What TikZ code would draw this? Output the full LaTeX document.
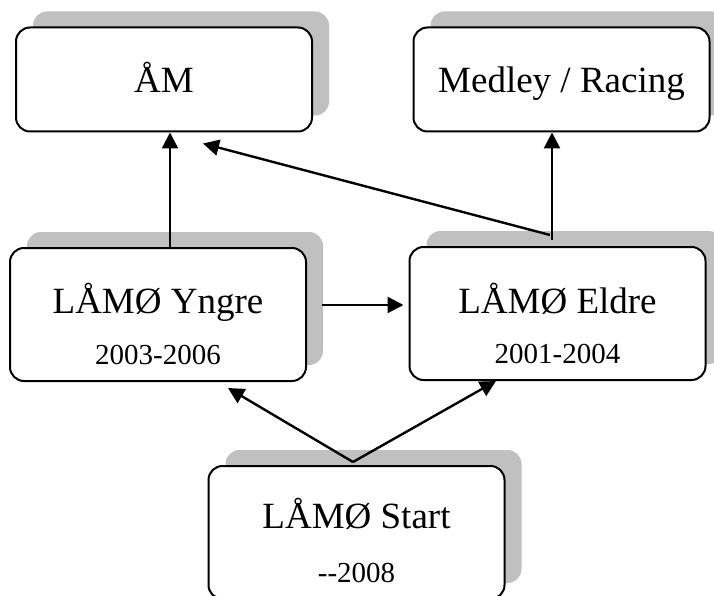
\documentclass[tikz,border=0pt]{standalone}
\usepackage{fontspec}
\setmainfont{Liberation Serif}
\usetikzlibrary{arrows.meta,shadows}
\definecolor{shadowgray}{HTML}{C0C0C0}
\begin{document}
\begin{tikzpicture}[x=1pt,y=-1pt,
  box/.style={draw=black, line width=2pt, fill=white, rounded corners=14pt,
    minimum width=296pt, inner sep=0pt,
    drop shadow={shadow xshift=17pt, shadow yshift=16pt, fill=shadowgray, opacity=1}},
  topbox/.style={box, minimum height=104pt},
  midbox/.style={box, minimum height=133pt},
  big/.style={font=\fontsize{37}{42}\selectfont, inner sep=0pt, anchor=base},
  yrs/.style={font=\fontsize{29}{33}\selectfont, inner sep=0pt, anchor=base},
  arr/.style={line width=2.4pt, -{Triangle[length=16pt,width=16pt]}}]
\useasboundingbox (0,0) rectangle (714,596);

% boxes
\node[topbox] (am) at (164,79.5) {};
\node[topbox] (med) at (561.5,79.5) {};
\node[midbox] (yng) at (158,314.5) {};
\node[midbox] (eld) at (557.5,313.5) {};
\node[midbox] (sta) at (356.5,532.5) {};

% texts
\node[big] (amT) at (164,93) {ÅM};
\node[big] (medT) at (561.5,93) {Medley / Racing};
\node[big] (yngT) at (158,313) {LÅMØ Yngre};
\node[yrs] (yngY) at (158,364) {2003-2006};
\node[big] (eldT) at (557.5,313) {LÅMØ Eldre};
\node[yrs] (eldY) at (557.5,363) {2001-2004};
\node[big] (staT) at (356.5,528) {LÅMØ Start};
\node[yrs] (staY) at (356.5,582) {-{}-2008};

% connector points
\coordinate (yngTop) at ([xshift=12pt]yng.north);
\coordinate (eldTop) at ([xshift=-5.5pt,yshift=6pt]eld.north);
\coordinate (eldJ) at ([xshift=-7.5pt,yshift=11pt]eld.north);
\coordinate (amTip) at ([xshift=39pt,yshift=-11pt]am.south);
\coordinate (staTop) at ([xshift=-3.5pt,yshift=3pt]sta.north);
\coordinate (yngTip) at ([xshift=70pt,yshift=-6pt]yng.south);
\coordinate (eldTip) at ([xshift=-61.5pt,yshift=0pt]eld.south);
\coordinate (yngR) at ([xshift=15pt,yshift=9.5pt]yng.east);
\coordinate (eldL) at ([xshift=-5pt]yngR -| eld.west);

% connectors
\draw[arr] (yngTop) -- (yngTop |- am.south);
\draw[arr] (eldTop) -- (eldTop |- med.south);
\draw[arr] (eldJ) -- (amTip);
\draw[arr] (yngR) -- (eldL);
\draw[arr] (staTop) -- (yngTip);
\draw[arr] (staTop) -- (eldTip);
\end{tikzpicture}
\end{document}
